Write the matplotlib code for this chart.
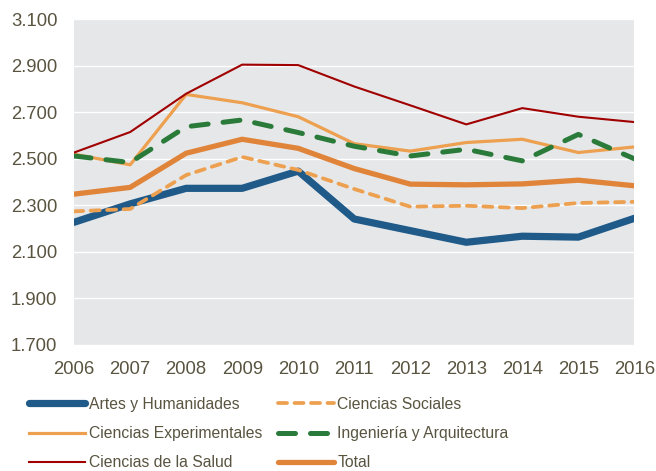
import matplotlib.pyplot as plt

plt.rcParams['font.family'] = ['Liberation Sans', 'DejaVu Sans']

# Data
years = [2006, 2007, 2008, 2009, 2010, 2011, 2012, 2013, 2014, 2015, 2016]
artes = [2227, 2306, 2373, 2373, 2447, 2241, 2191, 2141, 2167, 2163, 2244]
sociales = [2274, 2284, 2430, 2508, 2452, 2370, 2294, 2298, 2288, 2310, 2315]
experimentales = [2520, 2474, 2777, 2741, 2681, 2565, 2533, 2570, 2584, 2527, 2551]
ingenieria = [2512, 2484, 2638, 2667, 2613, 2554, 2512, 2541, 2491, 2605, 2500]
salud = [2527, 2615, 2780, 2905, 2903, 2811, 2730, 2648, 2718, 2681, 2658]
total = [2348, 2377, 2524, 2584, 2545, 2458, 2391, 2388, 2392, 2408, 2384]

yticks = [1700, 1900, 2100, 2300, 2500, 2700, 2900, 3100]
ytick_labels = ['1.700', '1.900', '2.100', '2.300', '2.500', '2.700', '2.900', '3.100']

TEXT = '#595440'

fig = plt.figure(figsize=(6.56, 4.71), dpi=100)
ax = fig.add_axes([0.113, 0.268, 0.854, 0.691])
ax.set_facecolor('#E6E7E9')

l_artes, = ax.plot(years, artes, color='#1F5A89', lw=5.2,
                   solid_capstyle='round', label='Artes y Humanidades')
l_soc, = ax.plot(years, sociales, color='#EDA04F', lw=2.7, dashes=(2.4, 2.0),
                 dash_capstyle='round', label='Ciencias Sociales')
l_exp, = ax.plot(years, experimentales, color='#EDA04F', lw=2.3,
                 label='Ciencias Experimentales')
l_ing, = ax.plot(years, ingenieria, color='#2A7B3A', lw=3.6, dashes=(3.4, 3.0),
                 dash_capstyle='round', label='Ingeniería y Arquitectura')
l_sal, = ax.plot(years, salud, color='#A00000', lw=1.5, label='Ciencias de la Salud')
l_tot, = ax.plot(years, total, color='#E0843A', lw=3.8,
                 solid_capstyle='round', label='Total')

ax.set_xlim(2006, 2016)
ax.set_ylim(1700, 3100)
ax.set_yticks(yticks)
ax.set_yticklabels(ytick_labels)
ax.set_xticks(years)
ax.set_xticklabels([str(y) for y in years])
ax.grid(axis='y', color='white', lw=1.0)
ax.set_axisbelow(True)
for s in ax.spines.values():
    s.set_visible(False)
ax.tick_params(length=0, labelsize=13.3, colors=TEXT)
ax.tick_params(axis='x', pad=12)
ax.tick_params(axis='y', pad=12)

handles = [l_artes, l_exp, l_sal, l_soc, l_ing, l_tot]
leg = fig.legend(handles, [h.get_label() for h in handles], ncol=2,
                 loc='upper left', bbox_to_anchor=(0.044, 0.158),
                 frameon=False, fontsize=11.3, handlelength=3.6,
                 handletextpad=0.2, columnspacing=1.0, labelspacing=0.92,
                 borderaxespad=0, borderpad=0)
for t in leg.get_texts():
    t.set_color(TEXT)

fig.savefig('out.png', dpi=100)
